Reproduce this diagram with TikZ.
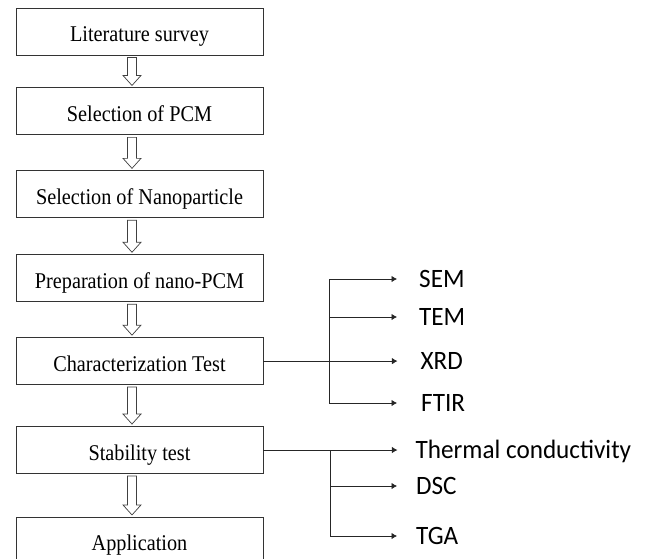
\documentclass[tikz,border=0pt]{standalone}
\usepackage{fontspec}
\setmainfont[FakeStretch=0.9]{Liberation Serif}
\newfontfamily\labelfont[FakeStretch=0.95]{Carlito}
\usepackage{tikz}
\usetikzlibrary{positioning}
\usetikzlibrary{arrows.meta}

\begin{document}
\begin{tikzpicture}
          [stage/.style={draw=black!80, line width=0.9pt, minimum width=247pt,
                         minimum height=47pt, inner sep=0pt,
                         text height=20pt, text depth=0pt,
                         font=\fontsize{22.5}{26}\selectfont},
           fat/.style={draw=black!75, fill=white, line width=0.7pt,
                       to path={([xshift=-12pt,yshift=-2pt]\tikztostart)
                         -- ([xshift=-12pt,yshift=12pt]\tikztotarget)
                         -- ([xshift=-16.5pt,yshift=12pt]\tikztotarget)
                         -- ([xshift=-7.5pt,yshift=2pt]\tikztotarget)
                         -- ([xshift=1.5pt,yshift=12pt]\tikztotarget)
                         -- ([xshift=-3pt,yshift=12pt]\tikztotarget)
                         -- ([xshift=-3pt,yshift=-2pt]\tikztostart) -- cycle}},
           wire/.style={draw=black!85, line width=0.8pt},
           branch/.style={wire, -{Latex[length=5.5pt,width=6.5pt]}},
           lbl/.style={inner xsep=0pt, text height=17pt, text depth=0pt,
                       font=\labelfont\fontsize{26.5}{30}\selectfont}]
          \useasboundingbox (0,0) rectangle (651pt,-558pt);

          % main steps
          \node[stage] (lit) at (139.5pt,-31.5pt) {Literature survey};
          \node[stage] (pcm) [below = 32pt of lit] {Selection of PCM};
          \node[stage] (nano) [below = 35pt of pcm] {Selection of Nanoparticle};
          \node[stage] (prep) [below = 36pt of nano] {Preparation of nano-PCM};
          \node[stage] (char) [below = 35pt of prep] {Characterization Test};
          \node[stage] (stab) [below = 41pt of char] {Stability test};
          \node[stage] (app) [below = 43pt of stab] {Application};

          \draw[fat] (lit.south) to (pcm.north);
          \draw[fat] (pcm.south) to (nano.north);
          \draw[fat] (nano.south) to (prep.north);
          \draw[fat] (prep.south) to (char.north);
          \draw[fat] (char.south) to (stab.north);
          \draw[fat] (stab.south) to (app.north);

          % characterization branches
          \coordinate[right = 66pt of char.east] (cj);
          \coordinate (semtip) at (397pt,-279pt);
          \coordinate (temtip) at (397pt,-317pt);
          \coordinate[right = 134pt of char.east] (xrdtip);
          \coordinate (ftirtip) at (397pt,-403pt);
          \node[lbl] (sem) [right = 22pt of semtip] {SEM};
          \node[lbl] (tem) [right = 22pt of temtip] {TEM};
          \node[lbl] (xrd) [right = 23pt of xrdtip] {XRD};
          \node[lbl] (ftir) [right = 24pt of ftirtip] {FTIR};

          \draw[wire] (char.east) -- (cj);
          \draw[wire] (cj |- semtip) -- (cj |- ftirtip);
          \draw[branch] (cj |- semtip) -- (semtip);
          \draw[branch] (cj |- temtip) -- (temtip);
          \draw[branch] (cj) -- (xrdtip);
          \draw[branch] (cj |- ftirtip) -- (ftirtip);

          % stability branches
          \coordinate[right = 67pt of stab.east] (sj);
          \coordinate[right = 134pt of stab.east] (thtip);
          \coordinate (dsctip) at (397pt,-486pt);
          \coordinate (tgatip) at (397pt,-536pt);
          \node[lbl] (therm) [right = 18pt of thtip] {Thermal conductivity};
          \node[lbl] (dsc) [right = 19pt of dsctip] {DSC};
          \node[lbl] (tga) [right = 19pt of tgatip] {TGA};

          \draw[branch] (stab.east) -- (thtip);
          \draw[wire] (sj) -- (sj |- tgatip);
          \draw[branch] (sj |- dsctip) -- (dsctip);
          \draw[branch] (sj |- tgatip) -- (tgatip);
        \end{tikzpicture}
\end{document}
